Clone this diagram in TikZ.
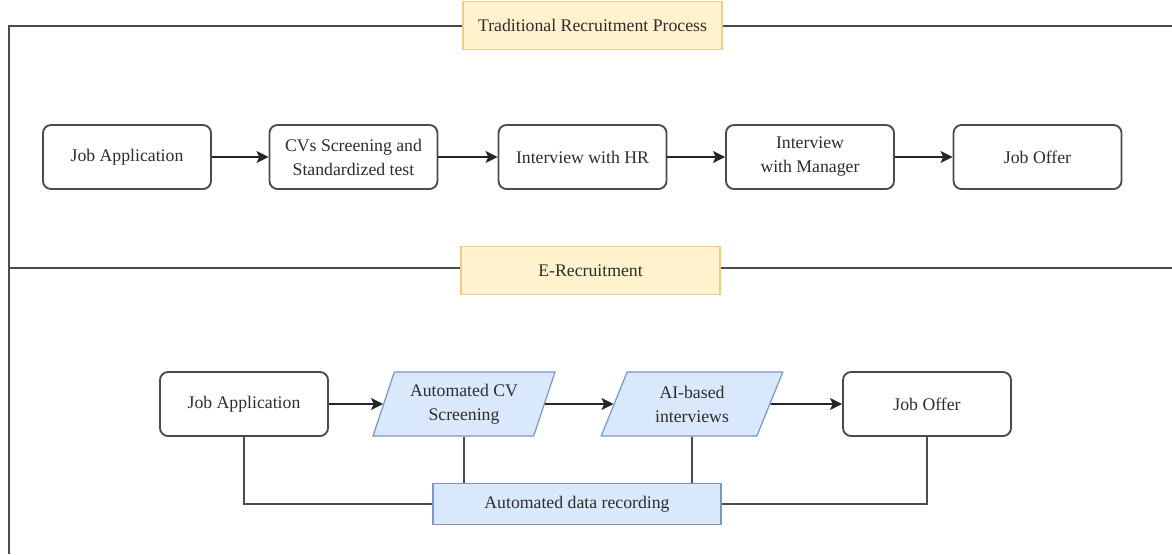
\documentclass[tikz,border=0pt]{standalone}
\usepackage{fontspec}
\setmainfont{Liberation Serif}
\usetikzlibrary{shapes.geometric,arrows.meta}

\definecolor{inkgray}{RGB}{45,45,45}
\definecolor{linegray}{RGB}{75,75,75}
\definecolor{titlefill}{RGB}{255,242,204}
\definecolor{titledraw}{RGB}{232,208,136}
\definecolor{bluefill}{RGB}{218,232,252}
\definecolor{bluedraw}{RGB}{120,152,200}

\tikzset{every picture/.style={line width=0.75pt}}
\tikzset{
  stepbox/.style={draw=linegray, line width=1.4pt, rounded corners=6pt, fill=white,
    minimum width=126pt, minimum height=48pt, align=center, text=inkgray,
    font=\fontsize{13.3}{18}\selectfont},
  autobox/.style={trapezium, trapezium left angle=70, trapezium right angle=110,
    trapezium stretches=true, draw=bluedraw, fill=bluefill, line width=0.9pt,
    minimum width=136.5pt, minimum height=48pt, align=center, text=inkgray,
    font=\fontsize{13.3}{18}\selectfont},
  recbox/.style={draw=bluedraw, fill=bluefill, line width=0.9pt,
    minimum width=216pt, minimum height=30.75pt, text=inkgray,
    font=\fontsize{13.3}{16}\selectfont},
  titlebox/.style={draw=titledraw, fill=titlefill, line width=0.9pt,
    minimum width=194.25pt, minimum height=36pt, text=inkgray,
    font=\fontsize{13.3}{16}\selectfont},
  frameline/.style={draw=linegray, line width=1.5pt},
  flow/.style={draw=black!85, line width=1.4pt, -{Stealth[length=9pt,width=9pt,inset=2pt]}},
  tie/.style={draw=linegray, line width=1.4pt}
}

\begin{document}
\begin{tikzpicture}[x=0.75pt,y=0.75pt,yscale=-1,xscale=1]
    \useasboundingbox (0,0) rectangle (1172,554);

    % Title Nodes
    \node [titlebox] (title1) at (592.5,25.5) {Traditional Recruitment Process};
    \node [titlebox] (title2) at (590.5,270.5) {E-Recruitment};

    %Frame Lines
    \coordinate (topleft) at (9,26);
    \coordinate (topright) at (1172,26);
    \coordinate (bottomleft) at (9,554);
    \coordinate (midleft) at (9,268);
    \coordinate (midright) at (1172,268);
    \draw [frameline] (title1.west |- topleft) -- (topleft) -- (bottomleft);
    \draw [frameline] (title1.east |- topright) -- (topright);
    \draw [frameline] (midleft) -- (title2.west |- midleft);
    \draw [frameline] (title2.east |- midright) -- (midright);

    % Traditional row
    \node [stepbox] (apply1) at (127,157) {Job Application};
    \node [stepbox] (screen1) at (353.5,157) {CVs Screening and\\Standardized test};
    \node [stepbox] (hr1) at (582.5,157) {Interview with HR};
    \node [stepbox] (manager1) at (810,157) {Interview\\with Manager};
    \node [stepbox] (offer1) at (1037.5,157) {Job Offer};

    \draw [flow] (apply1) -- (screen1);
    \draw [flow] (screen1) -- (hr1);
    \draw [flow] (hr1) -- (manager1);
    \draw [flow] (manager1) -- (offer1);

    % E-Recruitment row
    \node [stepbox] (apply2) at (244,404) {Job Application};
    \node [autobox] (screen2) at (464,404) {Automated CV\\Screening};
    \node [autobox] (ai2) at (692,404) {AI-based\\interviews};
    \node [stepbox] (offer2) at (927,404) {Job Offer};
    \node [recbox] (record2) at (577,504) {Automated data recording};

    \draw [flow] (apply2.east) -- (screen2.west);
    \draw [flow] (screen2.east) -- (ai2.west);
    \draw [flow] (ai2.east) -- (offer2.west);

    %Links to data recording
    \draw [tie] (apply2.south) |- (record2.west);
    \draw [tie] (screen2.south) -- (screen2.south |- record2.north);
    \draw [tie] (ai2.south) -- (ai2.south |- record2.north);
    \draw [tie] (offer2.south) |- (record2.east);

\end{tikzpicture}
\end{document}
